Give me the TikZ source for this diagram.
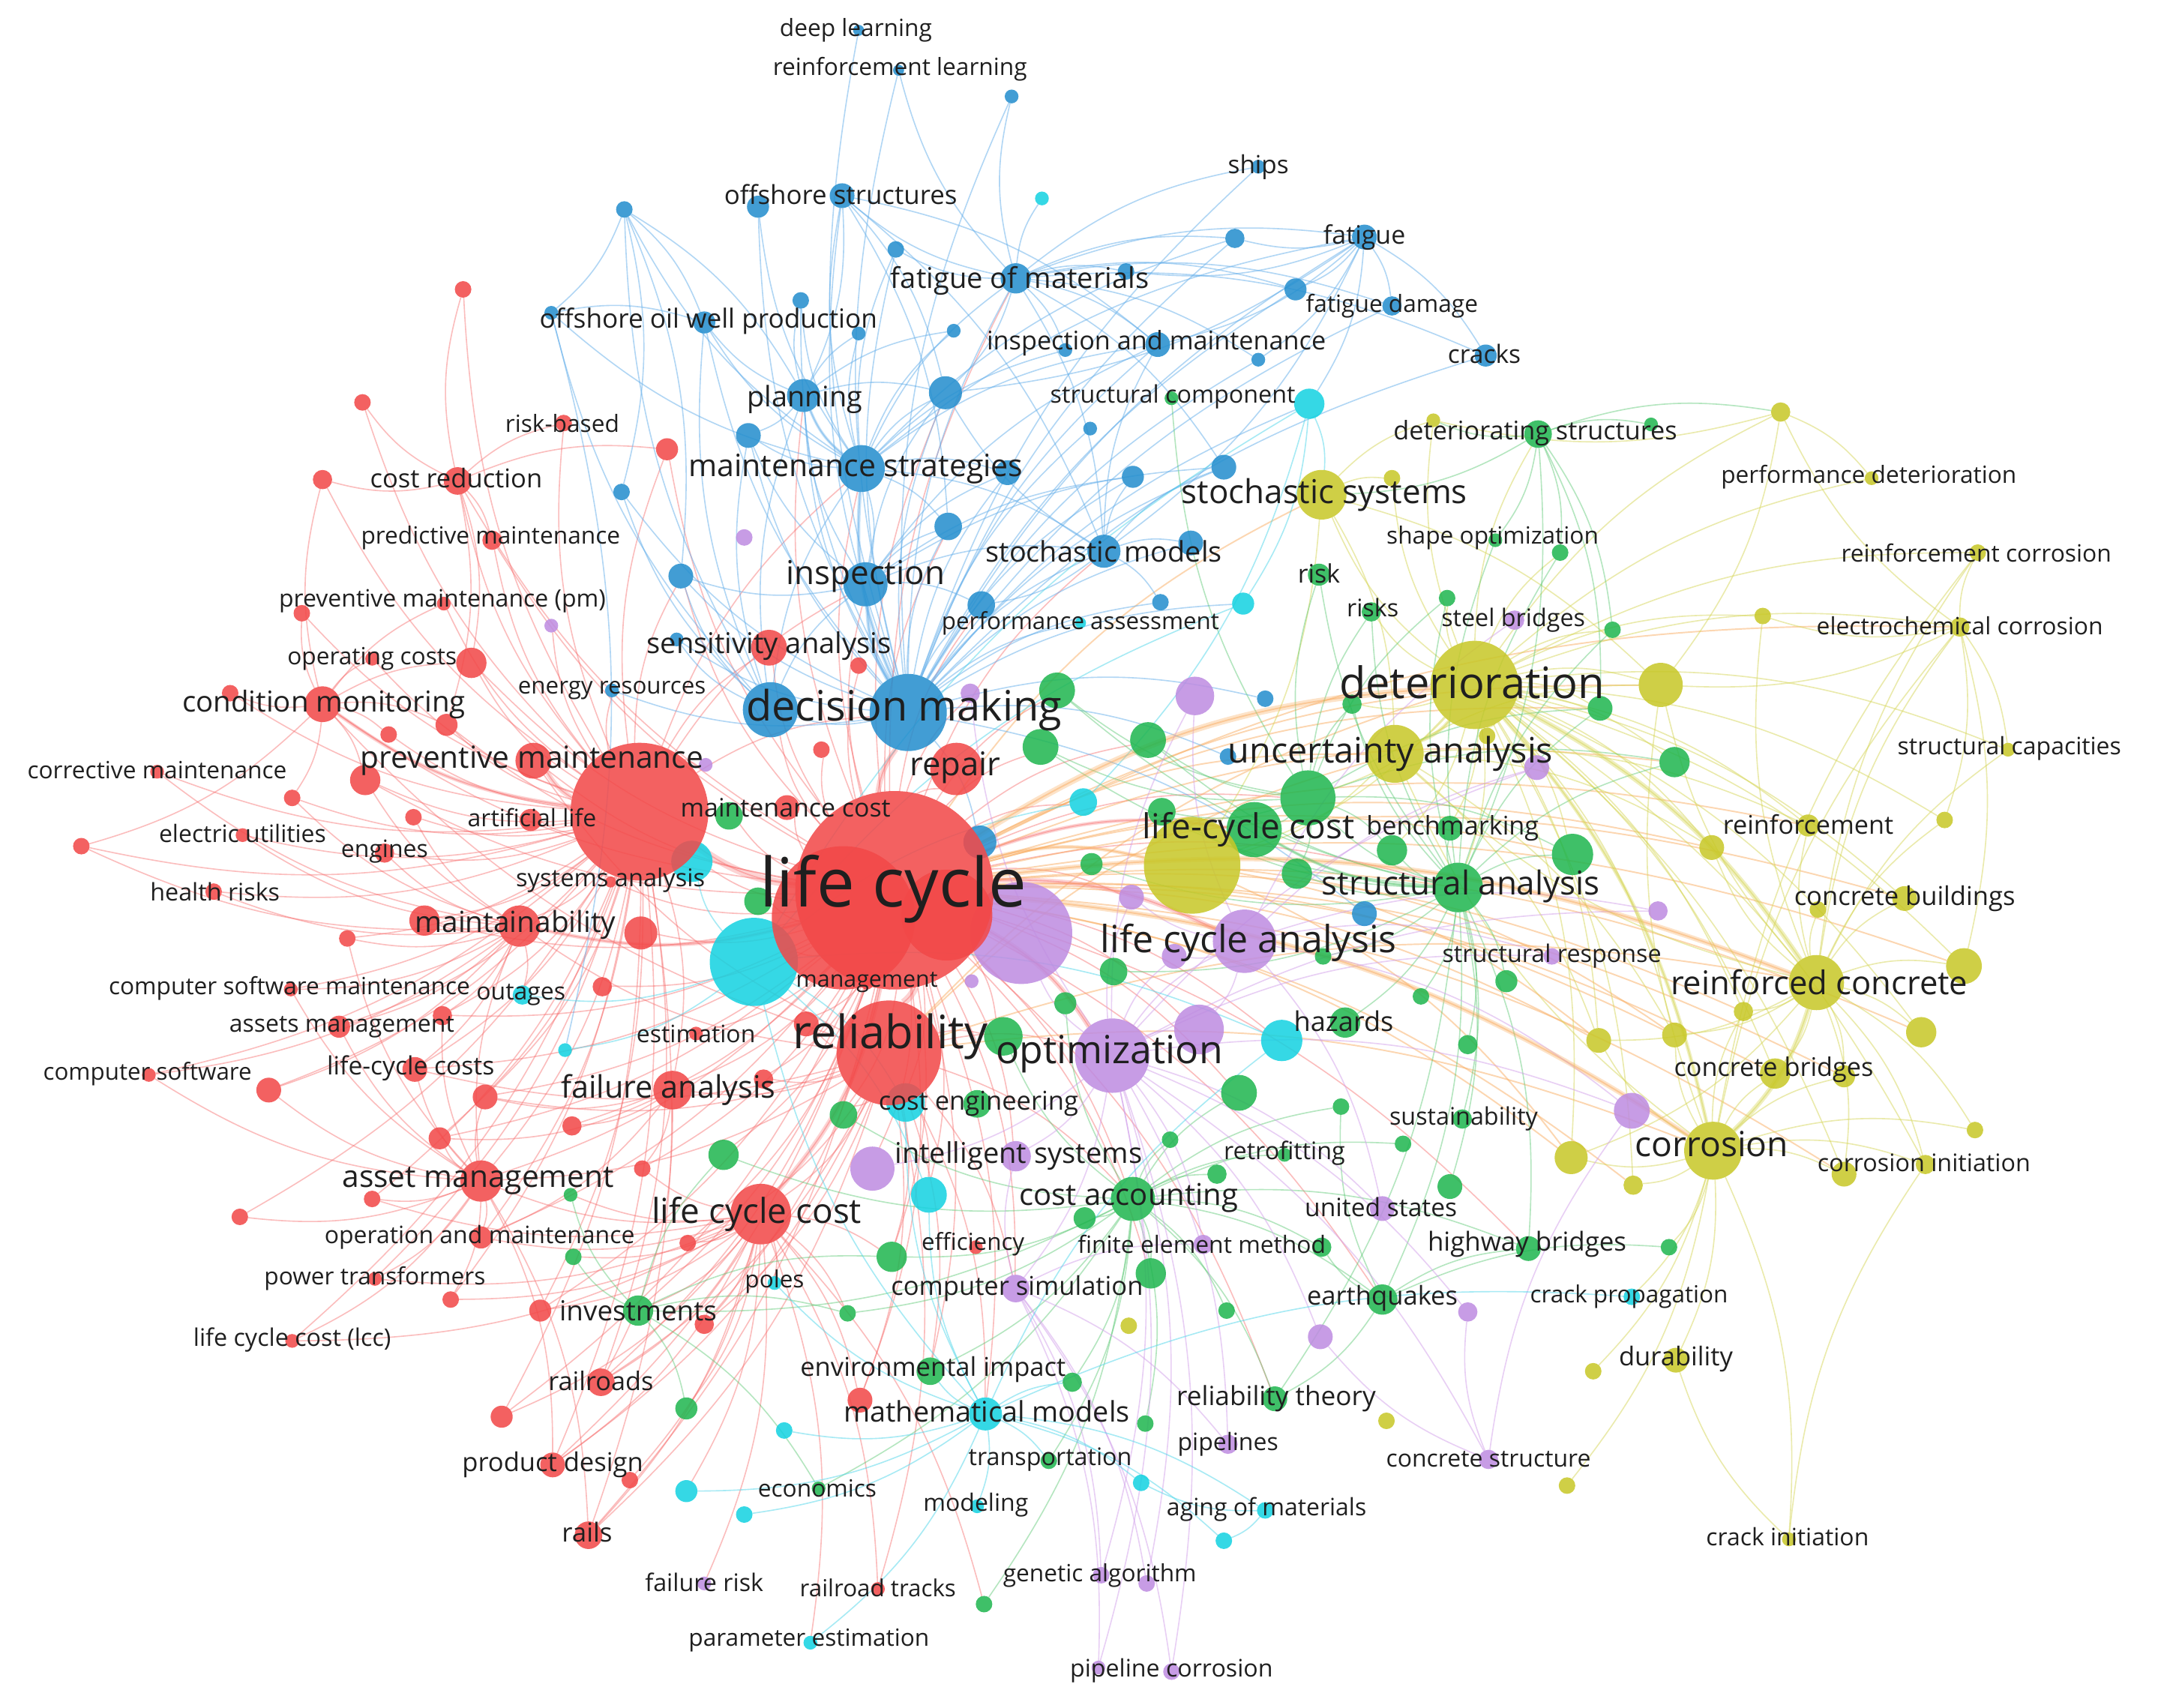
\documentclass[tikz,border=0pt]{standalone}
\usepackage{fontspec}
\setmainfont{Open Sans}
\definecolor{nR}{RGB}{242,72,72}
\definecolor{nB}{RGB}{35,142,206}
\definecolor{nG}{RGB}{32,182,80}
\definecolor{nY}{RGB}{200,200,40}
\definecolor{nP}{RGB}{190,140,225}
\definecolor{nC}{RGB}{20,210,225}
\definecolor{edR}{RGB}{248,110,110}
\definecolor{edB}{RGB}{100,175,235}
\definecolor{edG}{RGB}{90,200,115}
\definecolor{edY}{RGB}{215,215,90}
\definecolor{edP}{RGB}{210,160,235}
\definecolor{edC}{RGB}{80,215,235}
\definecolor{edO}{RGB}{250,175,100}
\pgfdeclarelayer{bg}
\pgfdeclarelayer{edges}
\pgfdeclarelayer{labels}
\pgfsetlayers{bg,edges,main,labels}
\tikzset{
  kdot/.style={circle, inner sep=0pt, outer sep=0pt, draw=none, fill opacity=0.86, minimum size=#1*0.4mm},
  klab/.style={inner sep=0pt, text=black!88},
  eR/.style={draw=edR, line width=0.5pt, draw opacity=0.45},
  eB/.style={draw=edB, line width=0.5pt, draw opacity=0.5},
  eG/.style={draw=edG, line width=0.5pt, draw opacity=0.45},
  eY/.style={draw=edY, line width=0.5pt, draw opacity=0.5},
  eP/.style={draw=edP, line width=0.5pt, draw opacity=0.5},
  eC/.style={draw=edC, line width=0.5pt, draw opacity=0.5},
  eO/.style={draw=edO, line width=0.6pt, draw opacity=0.5},
}
\newcommand\knd[5]{\node[kdot=#5, fill=#4] (#1) at (#2,#3) {};}
\newcommand\klb[5]{\node[klab, font={\fontsize{#4}{#4}\selectfont}] (#1) at (#2,#3) {#5};}
\newcommand\kedges[3]{\foreach \t in {#3} {\draw[#1] (#2) to[bend left=14] (\t);}}
\begin{document}
\begin{tikzpicture}[x=0.2mm, y=-0.2mm]
\useasboundingbox (0,0) rectangle (1568,1239);
\begin{pgfonlayer}{bg}
\fill[white] (0,0) rectangle (1568,1239);
\end{pgfonlayer}
% ---------- blue
\knd{b1}{623}{22}{nB}{4}
\knd{b2}{652}{51}{nB}{4}
\knd{b3}{734}{70}{nB}{5}
\knd{b4}{550}{150}{nB}{8}
\knd{b5}{611}{142}{nB}{9}
\knd{b6}{453}{152}{nB}{6}
\knd{b7}{650}{181}{nB}{6}
\knd{b8}{737}{202}{nB}{11}
\knd{b9}{511}{234}{nB}{8}
\knd{b10}{400}{227}{nB}{5}
\knd{b11}{581}{218}{nB}{6}
\knd{b12}{623}{242}{nB}{5}
\knd{b13}{692}{240}{nB}{5}
\knd{b14}{773}{254}{nB}{5}
\knd{b15}{840}{250}{nB}{9}
\knd{b16}{583}{287}{nB}{12}
\knd{b17}{686}{285}{nB}{12}
\knd{b18}{543}{316}{nB}{9}
\knd{b19}{451}{357}{nB}{6}
\knd{b20}{625}{340}{nB}{17}
\knd{b21}{731}{343}{nB}{9}
\knd{b22}{688}{382}{nB}{10}
\knd{b23}{913}{121}{nB}{5}
\knd{b24}{896}{173}{nB}{7}
\knd{b25}{990}{172}{nB}{9}
\knd{b26}{817}{197}{nB}{6}
\knd{b27}{940}{210}{nB}{8}
\knd{b28}{1010}{222}{nB}{7}
\knd{b29}{913}{261}{nB}{5}
\knd{b30}{1078}{258}{nB}{8}
\knd{b31}{791}{311}{nB}{5}
\knd{b32}{822}{346}{nB}{8}
\knd{b33}{888}{339}{nB}{9}
\knd{b34}{801}{400}{nB}{12}
\knd{b35}{864}{394}{nB}{9}
\knd{b36}{628}{424}{nB}{16}
\knd{b37}{494}{418}{nB}{9}
\knd{b38}{712}{439}{nB}{10}
\knd{b39}{842}{437}{nB}{6}
\knd{b40}{491}{464}{nB}{5}
\knd{b41}{444}{501}{nB}{5}
\knd{b44}{918}{507}{nB}{6}
\knd{b45}{891}{549}{nB}{6}
\knd{b46}{990}{663}{nB}{9}
\knd{b47}{711}{611}{nB}{12}
% ---------- cyan
\knd{c1}{756}{144}{nC}{5}
\knd{c2}{950}{293}{nC}{11}
\knd{c3}{902}{438}{nC}{8}
\knd{c4}{784}{452}{nC}{4}
\knd{c5}{786}{582}{nC}{10}
\knd{c8}{502}{625}{nC}{15}
\knd{c9}{379}{722}{nC}{7}
\knd{c10}{410}{762}{nC}{5}
\knd{c11}{657}{800}{nC}{14}
\knd{c12}{930}{755}{nC}{15}
\knd{c13}{674}{867}{nC}{13}
\knd{c14}{562}{931}{nC}{5}
\knd{c15}{715}{1026}{nC}{12}
\knd{c16}{569}{1038}{nC}{6}
\knd{c17}{498}{1082}{nC}{8}
\knd{c18}{540}{1099}{nC}{6}
\knd{c19}{709}{1093}{nC}{5}
\knd{c20}{588}{1192}{nC}{5}
\knd{c21}{828}{1076}{nC}{6}
\knd{c22}{918}{1096}{nC}{6}
\knd{c23}{888}{1118}{nC}{6}
\knd{c24}{1184}{941}{nC}{6}
% ---------- red
\knd{r1}{336}{210}{nR}{6}
\knd{r2}{263}{292}{nR}{6}
\knd{r3}{234}{348}{nR}{7}
\knd{r4}{332}{349}{nR}{10}
\knd{r5}{409}{307}{nR}{6}
\knd{r6}{484}{326}{nR}{8}
\knd{r7}{357}{392}{nR}{7}
\knd{r8}{322}{438}{nR}{5}
\knd{r9}{219}{445}{nR}{6}
\knd{r10}{270}{478}{nR}{5}
\knd{r11}{342}{481}{nR}{11}
\knd{r12}{167}{503}{nR}{6}
\knd{r13}{234}{511}{nR}{13}
\knd{r14}{324}{526}{nR}{8}
\knd{r15}{282}{533}{nR}{6}
\knd{r16}{114}{560}{nR}{5}
\knd{r17}{265}{566}{nR}{11}
\knd{r18}{387}{552}{nR}{13}
\knd{r19}{212}{579}{nR}{6}
\knd{r20}{300}{593}{nR}{6}
\knd{r21}{385}{595}{nR}{8}
\knd{r22}{59}{614}{nR}{6}
\knd{r23}{176}{606}{nR}{5}
\knd{r24}{279}{619}{nR}{7}
\knd{r25}{155}{647}{nR}{6}
\knd{r26}{443}{640}{nR}{4}
\knd{r27}{308}{668}{nR}{11}
\knd{r28}{377}{672}{nR}{15}
\knd{r29}{252}{681}{nR}{6}
\knd{r30}{211}{718}{nR}{5}
\knd{r31}{321}{737}{nR}{7}
\knd{r32}{246}{745}{nR}{8}
\knd{r33}{301}{776}{nR}{9}
\knd{r34}{108}{780}{nR}{5}
\knd{r35}{195}{791}{nR}{9}
\knd{r36}{352}{796}{nR}{9}
\knd{r37}{319}{826}{nR}{8}
\knd{r39}{558}{470}{nR}{13}
\knd{r40}{623}{483}{nR}{6}
\knd{r41}{596}{544}{nR}{6}
\knd{r42}{694}{558}{nR}{19}
\knd{r43}{571}{586}{nR}{9}
\knd{r47}{465}{677}{nR}{12}
\knd{r48}{437}{716}{nR}{7}
\knd{r49}{505}{750}{nR}{5}
\knd{r50}{585}{743}{nR}{9}
\knd{r52}{554}{783}{nR}{7}
\knd{r53}{488}{791}{nR}{14}
\knd{r54}{415}{817}{nR}{7}
\knd{r55}{466}{848}{nR}{6}
\knd{r57}{499}{902}{nR}{6}
\knd{r58}{708}{905}{nR}{5}
\knd{r59}{349}{857}{nR}{15}
\knd{r61}{270}{870}{nR}{6}
\knd{r62}{174}{883}{nR}{6}
\knd{r63}{349}{898}{nR}{8}
\knd{r64}{272}{928}{nR}{5}
\knd{r65}{327}{943}{nR}{6}
\knd{r66}{392}{951}{nR}{8}
\knd{r67}{212}{973}{nR}{5}
\knd{r68}{511}{961}{nR}{7}
\knd{r69}{436}{1003}{nR}{10}
\knd{r70}{624}{1016}{nR}{9}
\knd{r71}{364}{1028}{nR}{8}
\knd{r72}{401}{1063}{nR}{9}
\knd{r73}{457}{1074}{nR}{6}
\knd{r74}{427}{1114}{nR}{10}
\knd{r75}{637}{1153}{nR}{5}
\knd{r76}{629}{713}{nR}{5}
% ---------- green
\knd{g1}{850}{289}{nG}{5}
\knd{g2}{1116}{315}{nG}{10}
\knd{g3}{1198}{308}{nG}{5}
\knd{g4}{1085}{392}{nG}{5}
\knd{g5}{1132}{401}{nG}{6}
\knd{g6}{957}{417}{nG}{8}
\knd{g7}{995}{444}{nG}{7}
\knd{g8}{1050}{434}{nG}{6}
\knd{g9}{1170}{457}{nG}{6}
\knd{g10}{767}{501}{nG}{13}
\knd{g11}{755}{542}{nG}{13}
\knd{g12}{981}{511}{nG}{7}
\knd{g13}{1161}{514}{nG}{9}
\knd{g14}{833}{537}{nG}{13}
\knd{g15}{949}{579}{nG}{20}
\knd{g16}{843}{589}{nG}{10}
\knd{g17}{910}{602}{nG}{20}
\knd{g18}{1052}{601}{nG}{9}
\knd{g19}{1010}{617}{nG}{11}
\knd{g20}{1141}{620}{nG}{15}
\knd{g21}{792}{627}{nG}{8}
\knd{g22}{941}{634}{nG}{11}
\knd{g23}{1058}{644}{nG}{18}
\knd{g24}{808}{705}{nG}{10}
\knd{g25}{960}{694}{nG}{6}
\knd{g26}{1093}{712}{nG}{8}
\knd{g27}{1031}{723}{nG}{6}
\knd{g28}{728}{752}{nG}{14}
\knd{g29}{773}{728}{nG}{8}
\knd{g30}{976}{742}{nG}{11}
\knd{g31}{1065}{758}{nG}{7}
\knd{g32}{899}{793}{nG}{13}
\knd{g33}{973}{803}{nG}{6}
\knd{g34}{1061}{812}{nG}{7}
\knd{g35}{529}{592}{nG}{10}
\knd{g36}{550}{654}{nG}{10}
\knd{g37}{612}{809}{nG}{10}
\knd{g38}{709}{801}{nG}{10}
\knd{g39}{525}{838}{nG}{11}
\knd{g40}{414}{867}{nG}{5}
\knd{g41}{416}{912}{nG}{6}
\knd{g42}{647}{912}{nG}{11}
\knd{g43}{463}{951}{nG}{11}
\knd{g44}{615}{953}{nG}{6}
\knd{g45}{675}{995}{nG}{10}
\knd{g46}{778}{1003}{nG}{7}
\knd{g47}{498}{1022}{nG}{8}
\knd{g48}{761}{1060}{nG}{6}
\knd{g49}{594}{1080}{nG}{5}
\knd{g50}{714}{1164}{nG}{6}
\knd{g51}{932}{838}{nG}{5}
\knd{g52}{1018}{830}{nG}{6}
\knd{g53}{883}{852}{nG}{7}
\knd{g54}{822}{870}{nG}{16}
\knd{g55}{1052}{861}{nG}{9}
\knd{g56}{787}{884}{nG}{8}
\knd{g57}{959}{905}{nG}{7}
\knd{g58}{1109}{906}{nG}{9}
\knd{g59}{835}{924}{nG}{11}
\knd{g60}{890}{951}{nG}{6}
\knd{g61}{1003}{943}{nG}{11}
\knd{g62}{925}{1015}{nG}{9}
\knd{g63}{831}{1033}{nG}{6}
\knd{g64}{1211}{905}{nG}{6}
\knd{g65}{1215}{553}{nG}{11}
\knd{g66}{849}{827}{nG}{6}
% ---------- yellow
\knd{y1}{1040}{305}{nY}{5}
\knd{y2}{1010}{347}{nY}{6}
\knd{y3}{959}{359}{nY}{18}
\knd{y4}{1292}{299}{nY}{7}
\knd{y5}{1358}{347}{nY}{5}
\knd{y6}{1435}{401}{nY}{6}
\knd{y8}{1079}{534}{nY}{6}
\knd{y9}{1012}{547}{nY}{21}
\knd{y11}{1279}{447}{nY}{6}
\knd{y12}{1422}{455}{nY}{7}
\knd{y13}{1205}{497}{nY}{16}
\knd{y14}{1457}{544}{nY}{5}
\knd{y15}{1312}{599}{nY}{8}
\knd{y16}{1411}{595}{nY}{6}
\knd{y17}{1242}{615}{nY}{9}
\knd{y18}{1382}{652}{nY}{9}
\knd{y19}{1319}{660}{nY}{6}
\knd{y20}{1318}{713}{nY}{20}
\knd{y21}{1425}{701}{nY}{13}
\knd{y22}{1265}{734}{nY}{7}
\knd{y23}{1215}{751}{nY}{9}
\knd{y24}{1394}{749}{nY}{11}
\knd{y25}{1288}{779}{nY}{11}
\knd{y26}{1338}{781}{nY}{8}
\knd{y27}{1433}{820}{nY}{6}
\knd{y28}{1243}{835}{nY}{21}
\knd{y29}{1397}{845}{nY}{7}
\knd{y30}{1338}{852}{nY}{9}
\knd{y31}{1185}{860}{nY}{7}
\knd{y32}{1216}{987}{nY}{9}
\knd{y33}{1298}{1117}{nY}{5}
\knd{y34}{1140}{840}{nY}{12}
\knd{y35}{1160}{755}{nY}{9}
\knd{y36}{819}{962}{nY}{6}
\knd{y37}{1156}{995}{nY}{6}
\knd{y38}{1006}{1031}{nY}{6}
\knd{y39}{1137}{1078}{nY}{6}
% ---------- purple
\knd{p1}{540}{390}{nP}{6}
\knd{p2}{400}{454}{nP}{5}
\knd{p3}{704}{503}{nP}{7}
\knd{p4}{512}{555}{nP}{5}
\knd{p6}{705}{712}{nP}{5}
\knd{p7}{1099}{450}{nP}{7}
\knd{p8}{867}{505}{nP}{14}
\knd{p9}{1115}{557}{nP}{9}
\knd{p10}{821}{651}{nP}{9}
\knd{p11}{903}{683}{nP}{23}
\knd{p12}{852}{694}{nP}{9}
\knd{p13}{1126}{694}{nP}{6}
\knd{p14}{870}{747}{nP}{18}
\knd{p15}{807}{766}{nP}{27}
\knd{p16}{1203}{661}{nP}{7}
\knd{p17}{1184}{806}{nP}{13}
\knd{p18}{633}{848}{nP}{16}
\knd{p19}{737}{839}{nP}{11}
\knd{p20}{1003}{877}{nP}{9}
\knd{p21}{873}{903}{nP}{7}
\knd{p22}{737}{935}{nP}{10}
\knd{p23}{1065}{952}{nP}{7}
\knd{p24}{958}{970}{nP}{9}
\knd{p25}{891}{1048}{nP}{7}
\knd{p26}{1080}{1059}{nP}{7}
\knd{p27}{799}{1143}{nP}{6}
\knd{p28}{832}{1149}{nP}{6}
\knd{p29}{850}{1213}{nP}{6}
\knd{p30}{797}{1210}{nP}{5}
\knd{p31}{511}{1149}{nP}{5}
% ---------- big nodes
\knd{r56}{552}{881}{nR}{22}
\knd{b42}{559}{515}{nB}{20}
\knd{b43}{659}{517}{nB}{28}
\knd{y7}{1070}{497}{nY}{32}
\knd{y10}{865}{628}{nY}{35}
\knd{c7}{547}{698}{nC}{32}
\knd{p5}{741}{677}{nP}{37}
\knd{r38}{464}{589}{nR}{50}
\knd{r45}{612}{666}{nR}{52}
\knd{r46}{687}{664}{nR}{33}
\knd{r44}{649}{646}{nR}{72}
\knd{r51}{645}{764}{nR}{38}
% ---------- edges
\begin{pgfonlayer}{edges}
\kedges{eR}{r44}{r38,r51,r56,r28,r53,r59,r18,r13,r39,r42,r43,r36,r33,r47,r50,r52,r57,r69,r72,r74,r4,r7,r11,r6,r14,r17,r27,r31,r37,r55,r68,r70,r40,r41,r48,r54,r63,r66,r71,r76,r49,r26,b43,b42,b36,b20,b16,b17,b22,b38,b8,b37,b34,p15,p11,p14,p18,p19,p22,p3,p5,p10,g54,g42,g45,g28,g32,g23,g17,g15,g14,g10,g11,g37,g39,g35,g36,c15,c13,c11,c7,c8,c5,c12,g43,g59,g61,g58,g62}
\kedges{eO}{r44}{y7,y9,y20,y28,y3,y13,y23,y25,y21,y24,y34,y35,y17,y15,y10,g20,g13,g65,y31,y30,y22,y18,y26,y12}
\kedges{eR}{r38}{r1,r2,r3,r4,r5,r6,r7,r8,r9,r10,r11,r12,r13,r14,r15,r16,r17,r18,r19,r20,r21,r22,r23,r24,r25,r27,r28,r29,r30,r31,r32,r33,r34,r35,r36,r37,r59,r63,r64,r67,r69,r72,r74,r53,r39,r61,r62,r65,r66,r71,b36,b20,b43,b41,b37,p2,p4}
\kedges{eR}{r51}{r53,r56,r59,r28,r18,r13,r69,r72,r74,r75,r70,r57,r33,r36,r52,r50,r68,g54,c15,p15,p22,c13,g45,g28,g37,g42}
\kedges{eO}{r51}{y7,y28,y20,y9}
\kedges{eR}{r56}{r59,r63,r65,r66,r67,r69,r71,r72,r73,r74,r68,r57,r70,r75,r55,r61,r64,g43,g47,c14,c17,g42,p31,c20,g50,g44,g41,g40}
\kedges{eR}{r59}{r61,r62,r63,r64,r65,r67,r37,r35,r33,r31,r32,r30,r34,r29,r36,r28,r72,r74}
\kedges{eR}{r28}{r27,r29,r30,r31,r32,r33,r34,r35,r25,r23,r24,r22,r19,r20,r16,r17,c9}
\kedges{eR}{r13}{r12,r9,r15,r14,r17,r3,r10,r8,r11,r19,r22}
\kedges{eR}{r4}{r1,r2,r3,r5,r7,r14,r11,r6}
\kedges{eR}{r53}{r54,r55,r36,r37,r63,r69}
\kedges{eB}{b43}{b36,b20,b16,b17,b22,b38,b8,b15,b34,b35,b33,b32,b31,b21,b5,b4,b9,b11,b7,b18,b19,b37,b40,b41,b44,b45,b46,b25,b28,b30,b24,b27,b1,b2,b3,b23,b29,b39,b47,c2,c3,c4,b42}
\kedges{eB}{b42}{b36,b20,b16,b37,b40,b19,b18,b9,b6,b10}
\kedges{eB}{b20}{b16,b17,b18,b8,b5,b9,b10,b6,b11,b12,b13,b15,b36,b22,b21,b34,b14,b4,b7,b24,b25}
\kedges{eB}{b8}{b25,b28,b24,b27,b26,b15,b23,b30,b17,b34,b33,b7,b5,b2,c1,b3,b29,b14}
\kedges{eB}{b25}{b28,b30,b27,b29,b24,b15,b34,c2,b26,b17}
\kedges{eB}{b36}{b16,b17,b22,b34,b38,b37,b15,b33,b32,b21,b18}
\kedges{eB}{b6}{b9,b19,b37,b16,b10}
\kedges{eB}{b10}{c10,b9}
\kedges{eB}{b5}{b17,b16,b22,b15,b34}
\kedges{eB}{b16}{b9,b11,b12,b18,b17,b13}
\kedges{eB}{b34}{b35,b33,b32,b15,b17,b38,b39}
\kedges{eY}{y7}{y9,y3,y13,y11,y12,y15,y16,y17,y18,y20,y21,y22,y23,y24,y25,y28,y29,y30,y31,y34,y35,y2,y1,y4,y5,y6,y14,y10,y8,g2,g9,g13,g20,g65,g23,g19,g18,g15,g8,g12,g7,g5}
\kedges{eY}{y20}{y21,y24,y18,y19,y15,y16,y22,y23,y25,y26,y28,y27,y29,y30,y12,y6,y14,y13,y17,y9,y34,y35,y11}
\kedges{eY}{y28}{y32,y33,y29,y30,y31,y25,y26,y27,y6,y12,y37,y39,y23,y22,y34,y35,y9,y13,c24,g64}
\kedges{eY}{y12}{y6,y14,y16,y21,y4,y11,y13}
\kedges{eY}{y4}{y1,y5,y13}
\kedges{eY}{y33}{y32,y29}
\kedges{eY}{y3}{y9,y1,y2,y10,y13}
\kedges{eY}{y9}{y10,y13,y17,y15,y23,y35}
\kedges{eO}{y10}{y35,y23,y34}
\kedges{eG}{g2}{g3,g4,g5,g9,g13,y1,y4,g23,y3}
\kedges{eG}{g23}{g18,g19,g20,g22,g26,g27,g31,g13,g15,g17,g16,g14,g30,g34,g55,g58,g61,g62,g4,g5,g9,g8,g65,g7,g6,g25,g12,g10,g11,g21,g24}
\kedges{eG}{g54}{g53,g51,g52,g56,g57,g58,g59,g60,g61,g62,g63,g66,g42,g45,g46,g48,g32,g33,g43,g39,g37,g28,g29,g50,g49,g44}
\kedges{eG}{g15}{g17,g16,g10,g11,g14,g6,g7,g8,g12,g19,g22,g20,g13,g65,g1}
\kedges{eG}{g43}{g41,g40,g39,g47,g44,g49,g42}
\kedges{eG}{g61}{g58,g57,g64,g62,g33}
\kedges{eP}{p15}{p14,p10,p12,p11,p5,p18,p19,p22,p21,p20,p23,p24,p25,p26,p27,p28,p29,p30,p17,p13,p9,p16,p8,p3}
\kedges{eP}{p11}{p12,p14,p13,p16,p9,p17,p20,p8,p10,p7}
\kedges{eP}{p22}{p27,p28,p29,p30,p25,p21,p19}
\kedges{eP}{p26}{p17,p24,p23}
\kedges{eC}{c15}{c13,c16,c17,c18,c19,c21,c22,c23,c14,c11,c12,c7,g45,g46,g48,c24,c20}
\kedges{eC}{c7}{c8,c9,c10,c11,c13,c5,c12,c3,c2}
\kedges{eC}{c22}{c21,c23}
\kedges{eC}{c2}{c3,c5,y3}
% strong links
\draw[eR, line width=3pt, draw opacity=0.3] (r44) to[bend left=14] (r38);
\draw[eR, line width=3pt, draw opacity=0.3] (r44) to[bend left=14] (r51);
\draw[eR, line width=2.2pt, draw opacity=0.3] (r44) to[bend left=14] (b43);
\draw[eO, line width=2.5pt, draw opacity=0.35] (r44) to[bend left=14] (y7);
\draw[eO, line width=2pt, draw opacity=0.35] (r44) to[bend left=14] (y20);
\draw[eO, line width=2pt, draw opacity=0.35] (r44) to[bend left=14] (y28);
\draw[eO, line width=1.5pt, draw opacity=0.35] (r44) to[bend left=14] (y10);
\draw[eR, line width=2pt, draw opacity=0.3] (r44) to[bend left=14] (p15);
\draw[eR, line width=2pt, draw opacity=0.3] (r44) to[bend left=14] (p11);
\draw[eR, line width=2pt, draw opacity=0.3] (r44) to[bend left=14] (r56);
\draw[eR, line width=1.5pt, draw opacity=0.3] (r44) to[bend left=14] (r28);
\draw[eR, line width=1.5pt, draw opacity=0.3] (r44) to[bend left=14] (g17);
\draw[eR, line width=2pt, draw opacity=0.3] (r38) to[bend left=14] (r18);
\draw[eR, line width=1.5pt, draw opacity=0.3] (r38) to[bend left=14] (r13);
\draw[eB, line width=1.5pt, draw opacity=0.35] (b43) to[bend left=14] (b36);
\draw[eB, line width=1.5pt, draw opacity=0.35] (b43) to[bend left=14] (b20);
\draw[eB, line width=1.2pt, draw opacity=0.35] (b20) to[bend left=14] (b16);
\draw[eY, line width=2pt, draw opacity=0.4] (y7) to[bend left=14] (y20);
\draw[eY, line width=2pt, draw opacity=0.4] (y20) to[bend left=14] (y28);
\draw[eY, line width=1.5pt, draw opacity=0.4] (y7) to[bend left=14] (y28);
\draw[eY, line width=1.5pt, draw opacity=0.4] (y7) to[bend left=14] (y9);
\draw[eG, line width=1.2pt, draw opacity=0.4] (g23) to[bend left=14] (g17);
\end{pgfonlayer}
% ---------- labels
\begin{pgfonlayer}{labels}
\klb{L1}{621}{22}{9.8}{deep learning}
\klb{L2}{653}{50}{9.8}{reinforcement learning}
\klb{L3}{610}{141}{10.8}{offshore structures}
\klb{L4}{740}{204}{11.8}{fatigue of materials}
\klb{L5}{514}{233}{10.9}{offshore oil well production}
\klb{L6}{839}{249}{10.6}{inspection and maintenance}
\klb{L7}{584}{290}{11.7}{planning}
\klb{L8}{408}{307}{9.8}{risk-based}
\klb{L9}{621}{340}{12.7}{maintenance strategies}
\klb{L10}{913}{121}{10.3}{ships}
\klb{L11}{990}{172}{10.5}{fatigue}
\klb{L12}{1010}{222}{9.8}{fatigue damage}
\klb{L13}{1077}{257}{10.4}{cracks}
\klb{L14}{851}{288}{10}{structural component}
\klb{L15}{1114}{314}{10.6}{deteriorating structures}
\klb{L16}{961}{359}{13.6}{stochastic systems}
\klb{L17}{1083}{390}{9.8}{shape optimization}
\klb{L18}{801}{400}{11.7}{stochastic models}
\klb{L19}{1356}{346}{9.8}{performance deterioration}
\klb{L20}{1434}{401}{9.85}{reinforcement corrosion}
\klb{L21}{331}{347}{10.7}{cost reduction}
\klb{L22}{356}{390}{9.8}{predictive maintenance}
\klb{L23}{321}{436}{9.9}{preventive maintenance (pm)}
\klb{L24}{270}{478}{9.8}{operating costs}
\klb{L25}{235}{511}{11.9}{condition monitoring}
\klb{L26}{114}{559}{9.8}{corrective maintenance}
\klb{L27}{386}{552}{12.6}{preventive maintenance}
\klb{L28}{386}{593}{9.9}{artificial life}
\klb{L29}{176}{605}{9.9}{electric utilities}
\klb{L30}{279}{618}{9.9}{engines}
\klb{L31}{156}{647}{10}{health risks}
\klb{L32}{443}{639}{10.1}{systems analysis}
\klb{L33}{374}{671}{12}{maintainability}
\klb{L34}{210}{717}{9.8}{computer software maintenance}
\klb{L35}{378}{722}{9.9}{outages}
\klb{L36}{248}{745}{9.9}{assets management}
\klb{L37}{298}{775}{10.4}{life-cycle costs}
\klb{L38}{107}{779}{9.7}{computer software}
\klb{L39}{628}{418}{13.6}{inspection}
\klb{L40}{784}{452}{9.7}{performance assessment}
\klb{L41}{558}{469}{11.8}{sensitivity analysis}
\klb{L42}{444}{501}{9.7}{energy resources}
\klb{L43}{656}{515}{17.3}{decision making}
\klb{L44}{693}{557}{13.5}{repair}
\klb{L45}{570}{586}{10.5}{maintenance cost}
\klb{L46}{648}{645}{28}{life cycle}
\klb{L47}{629}{713}{9.4}{management}
\klb{L48}{505}{750}{9.9}{estimation}
\klb{L49}{646}{752}{19}{reliability}
\klb{L50}{485}{791}{12.8}{failure analysis}
\klb{L51}{710}{801}{10.7}{cost engineering}
\klb{L52}{957}{416}{10.5}{risk}
\klb{L53}{996}{441}{10}{risks}
\klb{L54}{1098}{450}{10}{steel bridges}
\klb{L55}{1068}{495}{17.9}{deterioration}
\klb{L56}{1009}{547}{14.5}{uncertainty analysis}
\klb{L57}{906}{602}{14.2}{life-cycle cost}
\klb{L58}{1054}{601}{10.6}{benchmarking}
\klb{L59}{1060}{643}{13.6}{structural analysis}
\klb{L60}{906}{684}{15.5}{life cycle analysis}
\klb{L61}{1126}{694}{10}{structural response}
\klb{L62}{975}{741}{11.2}{hazards}
\klb{L63}{805}{765}{16}{optimization}
\klb{L64}{1062}{812}{10}{sustainability}
\klb{L65}{1422}{454}{9.85}{electrochemical corrosion}
\klb{L66}{1458}{543}{9.9}{structural capacities}
\klb{L67}{1312}{598}{10.6}{reinforcement}
\klb{L68}{1382}{652}{10.7}{concrete buildings}
\klb{L69}{1320}{713}{13.5}{reinforced concrete}
\klb{L70}{1287}{776}{10.6}{concrete bridges}
\klb{L71}{1242}{830}{14.3}{corrosion}
\klb{L72}{1396}{844}{10}{corrosion initiation}
\klb{L73}{1182}{941}{9.75}{crack propagation}
\klb{L74}{1216}{986}{10.7}{durability}
\klb{L75}{1297}{1115}{9.9}{crack initiation}
\klb{L76}{932}{837}{10}{retrofitting}
\klb{L77}{819}{869}{12.4}{cost accounting}
\klb{L78}{1002}{876}{10.4}{united states}
\klb{L79}{872}{903}{9.85}{finite element method}
\klb{L80}{1108}{903}{10.8}{highway bridges}
\klb{L81}{738}{935}{10.7}{computer simulation}
\klb{L82}{1003}{942}{10.7}{earthquakes}
\klb{L83}{926}{1015}{10.9}{reliability theory}
\klb{L84}{891}{1048}{9.9}{pipelines}
\klb{L85}{1080}{1059}{9.9}{concrete structure}
\klb{L86}{919}{1095}{9.9}{aging of materials}
\klb{L87}{798}{1143}{9.8}{genetic algorithm}
\klb{L88}{850}{1212}{9.96}{pipeline corrosion}
\klb{L89}{739}{839}{11.8}{intelligent systems}
\klb{L90}{549}{881}{14.2}{life cycle cost}
\klb{L91}{706}{903}{9.7}{efficiency}
\klb{L92}{562}{930}{9.75}{poles}
\klb{L93}{463}{951}{11.4}{investments}
\klb{L94}{677}{994}{10.7}{environmental impact}
\klb{L95}{436}{1002}{10.6}{railroads}
\klb{L96}{716}{1024}{11.7}{mathematical models}
\klb{L97}{401}{1063}{10.7}{product design}
\klb{L98}{762}{1059}{10}{transportation}
\klb{L99}{593}{1080}{9.8}{economics}
\klb{L100}{708}{1092}{9.9}{modeling}
\klb{L101}{426}{1112}{10.8}{rails}
\klb{L102}{511}{1148}{10}{failure risk}
\klb{L103}{637}{1152}{9.7}{railroad tracks}
\klb{L104}{587}{1190}{9.8}{parameter estimation}
\klb{L105}{347}{857}{12.6}{asset management}
\klb{L106}{348}{898}{9.9}{operation and maintenance}
\klb{L107}{272}{928}{9.8}{power transformers}
\klb{L108}{212}{972}{10}{life cycle cost (lcc)}
\end{pgfonlayer}
\end{tikzpicture}
\end{document}
